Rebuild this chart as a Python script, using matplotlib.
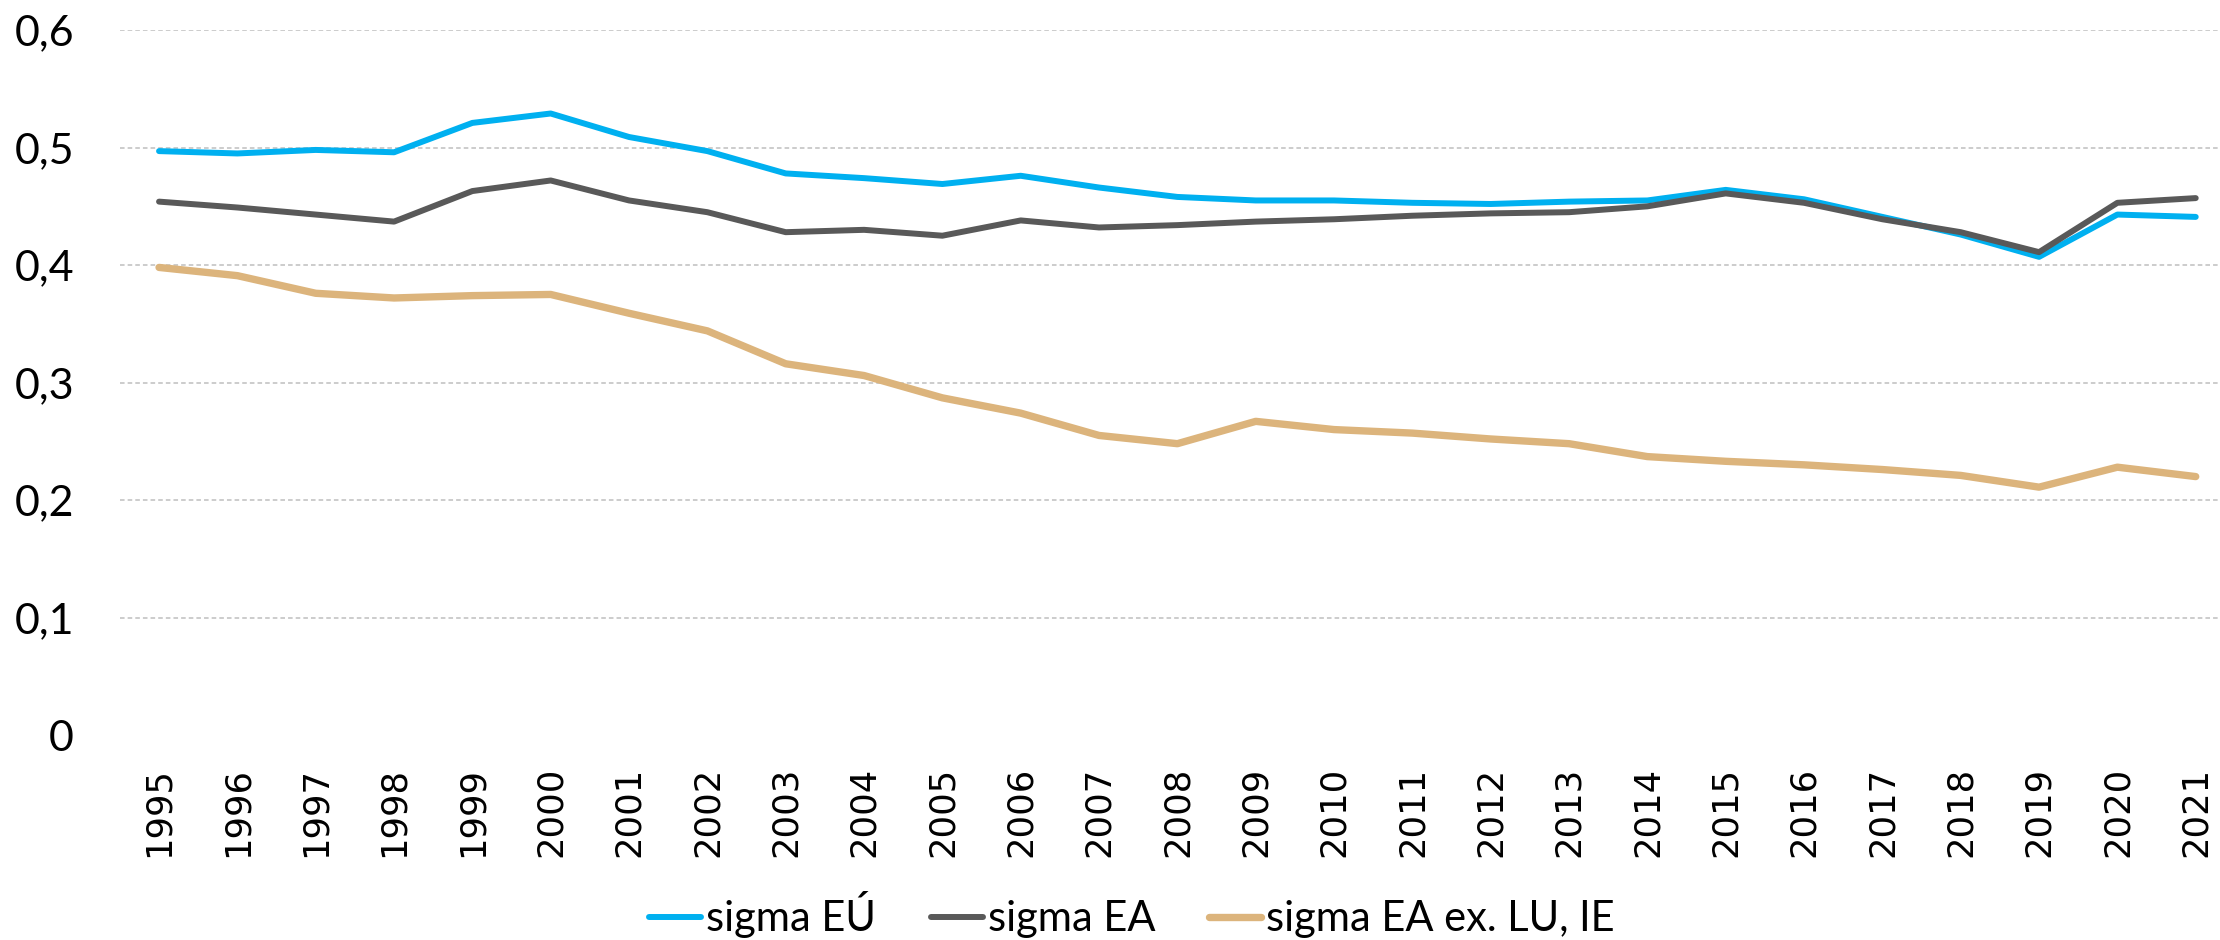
import matplotlib
matplotlib.use("Agg")
import matplotlib.pyplot as plt
from matplotlib.ticker import FuncFormatter

plt.rcParams['font.family'] = ['Lato', 'DejaVu Sans']

# data
years = list(range(1995, 2022))
sigma_eu = [0.497, 0.495, 0.498, 0.496, 0.521, 0.529, 0.509, 0.497,
            0.478, 0.474, 0.469, 0.476, 0.466, 0.458, 0.455, 0.455,
            0.453, 0.452, 0.454, 0.455, 0.464, 0.456, 0.441, 0.426,
            0.407, 0.443, 0.441]
sigma_ea = [0.454, 0.449, 0.443, 0.437, 0.463, 0.472, 0.455, 0.445,
            0.428, 0.430, 0.425, 0.438, 0.432, 0.434, 0.437, 0.439,
            0.442, 0.444, 0.445, 0.450, 0.461, 0.453, 0.439, 0.428,
            0.411, 0.453, 0.457]
sigma_ea_ex = [0.398, 0.391, 0.376, 0.372, 0.374, 0.375, 0.359, 0.344,
               0.316, 0.306, 0.287, 0.274, 0.255, 0.248, 0.267, 0.260,
               0.257, 0.252, 0.248, 0.237, 0.233, 0.230, 0.226, 0.221,
               0.211, 0.228, 0.220]
labels = ['sigma EÚ', 'sigma EA', 'sigma EA ex. LU, IE']
colors = ['#00B0F0', '#595959', '#DCB47C']

fig = plt.figure(figsize=(22.2, 9.4), dpi=100)
ax = fig.add_axes([0.054, 0.218, 0.946, 0.750])

ax.plot(years, sigma_eu, color=colors[0], lw=4.3, label=labels[0], solid_capstyle='round')
ax.plot(years, sigma_ea, color=colors[1], lw=4.3, label=labels[1], solid_capstyle='round')
ax.plot(years, sigma_ea_ex, color=colors[2], lw=5.3, label=labels[2], solid_capstyle='round')

ax.set_ylim(0, 0.6)
ax.set_xlim(1994.5, 2021.31)
ax.set_yticks([0, 0.1, 0.2, 0.3, 0.4, 0.5, 0.6])
ax.yaxis.set_major_formatter(FuncFormatter(lambda v, p: '0' if v == 0 else f'{v:.1f}'.replace('.', ',')))
ax.set_xticks(years)
ax.set_xticklabels([str(y) for y in years], rotation=90, fontfamily='DejaVu Sans', fontsize=25.5)
ax.tick_params(axis='y', labelsize=31, length=0, pad=33)
ax.tick_params(axis='x', length=0, pad=23)

for v in [0.1, 0.2, 0.3, 0.4, 0.5, 0.6]:
    ax.axhline(v, color='#BFBFBF', lw=1.1, ls=(0, (3, 2)), zorder=0)

for s in ax.spines.values():
    s.set_visible(False)

fig.legend(loc='center', bbox_to_anchor=(0.51, 0.027), ncol=3, frameon=False,
           fontsize=30, handlelength=1.25, handletextpad=0.12, columnspacing=1.3)

fig.savefig('out.png', dpi=100)
